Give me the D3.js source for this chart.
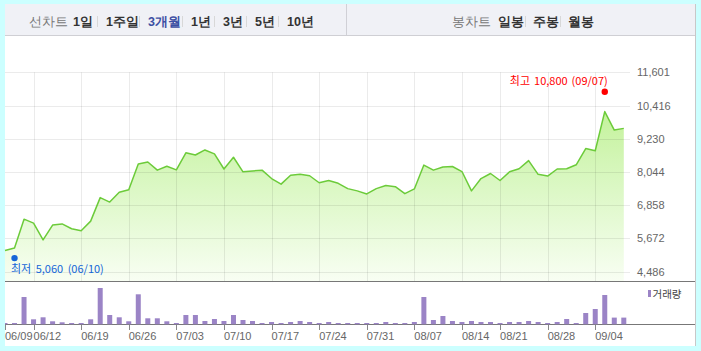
<!DOCTYPE html>
<html>
<head>
<meta charset="utf-8">
<script src="https://cdn.jsdelivr.net/npm/d3@7"></script>
<style>
  body { margin: 0; background: #ccffff; }
  svg { display: block; }
  text { font-family: "Liberation Sans", Arial, sans-serif; }
  .kr { font-family: "Noto Sans CJK KR", sans-serif; }
</style>
</head>
<body>
<div id="chart"></div>
<script>
// trading days shown on the chart
const dates = [
  "06/09", "06/10", "06/11", "06/12", "06/13", "06/14", "06/15", "06/16",
  "06/19", "06/20", "06/21", "06/22", "06/23",
  "06/26", "06/27", "06/28", "06/29", "06/30",
  "07/03", "07/04", "07/05", "07/06", "07/07",
  "07/10", "07/11", "07/12", "07/13", "07/14",
  "07/17", "07/18", "07/19", "07/20", "07/21",
  "07/24", "07/25", "07/26", "07/27", "07/28",
  "07/31", "08/01", "08/02", "08/03", "08/04",
  "08/07", "08/08", "08/09", "08/10", "08/11",
  "08/14", "08/16", "08/17", "08/18",
  "08/21", "08/22", "08/23", "08/24", "08/25",
  "08/28", "08/29", "08/30", "08/31", "09/01",
  "09/04", "09/05", "09/06", "09/07"
];

// closing price
const prices = [
  5240, 5330, 6360, 6220, 5620, 6150, 6190, 6020,
  5950, 6290, 7130, 6970, 7320,
  7410, 8330, 8400, 8110, 8250,
  8120, 8730, 8650, 8830, 8690,
  8150, 8570, 8050, 8080, 8110,
  7810, 7610, 7930, 7960, 7910,
  7660, 7740, 7640, 7450, 7370,
  7260, 7450, 7560, 7520, 7270,
  7440, 8290, 8110, 8220, 8240,
  8060, 7370, 7810, 7990,
  7740, 8050, 8160, 8450, 7960,
  7900, 8150, 8160, 8300, 8880,
  8800, 10200, 9540, 9600
];

// volume (thousand shares)
const volumes = [
  130, 130, 2730, 500, 700, 300, 200, 130,
  130, 500, 3630, 930, 700,
  300, 3000, 600, 600, 300,
  130, 930, 930, 330, 530,
  330, 930, 430, 330, 130,
  230, 130, 230, 330, 230,
  130, 230, 130, 130, 130,
  130, 130, 230, 130, 130,
  230, 2730, 430, 830, 330,
  230, 330, 230, 230,
  130, 230, 230, 330, 230,
  130, 230, 530, 130, 1130,
  1530, 2930, 670, 670
];

const priceTicks = [4486, 5672, 6858, 8044, 9230, 10416, 11601];
const dateTicks = ["06/09", "06/12", "06/19", "06/26", "07/03", "07/10", "07/17",
  "07/24", "07/31", "08/07", "08/14", "08/21", "08/28", "09/04"];

const highMark = { index: 63, value: 10800, text: "최고 10,800 (09/07)" };
const lowMark = { index: 1, value: 5060, text: "최저 5,060 (06/10)" };

const periodButtons = ["1일", "1주일", "3개월", "1년", "3년", "5년", "10년"];
const candleButtons = ["일봉", "주봉", "월봉"];

const width = 701;
const height = 351;

const svg = d3.select("#chart")
  .append("svg")
  .attr("width", width)
  .attr("height", height);

// white panel with header strip
svg.append("rect").attr("x", 5).attr("y", 4).attr("width", 690).attr("height", 342).attr("fill", "#fff");
svg.append("line").attr("x1", 695.5).attr("x2", 695.5).attr("y1", 4).attr("y2", 346).attr("stroke", "#c8c8c8");
svg.append("rect").attr("x", 5).attr("y", 4).attr("width", 690).attr("height", 31).attr("fill", "#f0f1f6");
svg.append("line").attr("x1", 5).attr("x2", 695).attr("y1", 35.5).attr("y2", 35.5).attr("stroke", "#cfcfd4");
svg.append("line").attr("x1", 346.5).attr("x2", 346.5).attr("y1", 4).attr("y2", 35).attr("stroke", "#d0d0d6");

// header buttons
const periodX = [73, 106, 148, 191, 223, 255, 287];
const candleX = [498, 533, 568];
const header = svg.append("g").attr("class", "kr");

header.append("text").attr("x", 29).attr("y", 26).text("선차트")
  .style("font-size", "12.5px").attr("fill", "#777");
header.append("text").attr("x", 452).attr("y", 26).text("봉차트")
  .style("font-size", "12.5px").attr("fill", "#777");

periodButtons.forEach((t, i) => {
  header.append("text").attr("x", periodX[i]).attr("y", 26).text(t)
    .style("font-size", "12.5px").style("font-weight", "bold")
    .attr("fill", t === "3개월" ? "#3c4fa3" : "#333");
  if (i > 0) {
    header.append("line").attr("x1", periodX[i] - 8.5).attr("x2", periodX[i] - 8.5)
      .attr("y1", 16).attr("y2", 27).attr("stroke", "#d8d8d8");
  }
});
candleButtons.forEach((t, i) => {
  header.append("text").attr("x", candleX[i]).attr("y", 26).text(t)
    .style("font-size", "12.5px").style("font-weight", "bold").attr("fill", "#333");
  if (i > 0) {
    header.append("line").attr("x1", candleX[i] - 7.5).attr("x2", candleX[i] - 7.5)
      .attr("y1", 16).attr("y2", 27).attr("stroke", "#d8d8d8");
  }
});

// scales
const x = d3.scalePoint()
  .domain(d3.range(dates.length))
  .range([5, 623.8]);

const y = d3.scaleLinear()
  .domain([4486, 11601])
  .range([271.7, 72.3]);

const yVol = d3.scaleLinear()
  .domain([0, 4000])
  .range([324.3, 284.3]);

// gradient for area
const defs = svg.append("defs");
const grad = defs.append("linearGradient")
  .attr("id", "areaFill")
  .attr("gradientUnits", "userSpaceOnUse")
  .attr("x1", 0).attr("x2", 0).attr("y1", 72).attr("y2", 281);
grad.append("stop").attr("offset", 0).attr("stop-color", "#b8ef86");
grad.append("stop").attr("offset", 0.5).attr("stop-color", "#d8f7bf");
grad.append("stop").attr("offset", 1).attr("stop-color", "#f8fef3");

defs.append("clipPath").attr("id", "plotClip")
  .append("rect").attr("x", 5).attr("y", 40).attr("width", 690).attr("height", 300);

const area = d3.area()
  .x((d, i) => x(i))
  .y0(281)
  .y1(d => y(d));

const line = d3.line()
  .x((d, i) => x(i))
  .y(d => y(d));

svg.append("path")
  .datum(prices)
  .attr("d", area)
  .attr("fill", "url(#areaFill)");

// grid lines (drawn over the fill)
const tickIdx = dates.map((d, i) => i).filter(i => dateTicks.includes(dates[i]));

svg.append("g")
  .selectAll("line")
  .data(priceTicks)
  .join("line")
  .attr("x1", 5).attr("x2", 630)
  .attr("y1", d => Math.round(y(d)) + 0.5)
  .attr("y2", d => Math.round(y(d)) + 0.5)
  .attr("stroke", "rgba(0,0,0,0.08)");

svg.append("g")
  .selectAll("line")
  .data(tickIdx.slice(1))
  .join("line")
  .attr("x1", d => Math.round(x(d)) + 0.5)
  .attr("x2", d => Math.round(x(d)) + 0.5)
  .attr("y1", y(11601))
  .attr("y2", 281)
  .attr("stroke", "rgba(0,0,0,0.08)");

svg.append("path")
  .datum(prices)
  .attr("d", line)
  .attr("fill", "none")
  .attr("stroke", "#6ccb3a")
  .attr("stroke-width", 1.5)
  .attr("stroke-linejoin", "round");

// price labels on the right
svg.append("g")
  .selectAll("text")
  .data(priceTicks)
  .join("text")
  .attr("x", 637)
  .attr("y", d => y(d) + 4)
  .text(d => d3.format(",")(d))
  .style("font-size", "11px")
  .attr("fill", "#666");

// panel separators
svg.append("line").attr("x1", 5).attr("x2", 695).attr("y1", 281.5).attr("y2", 281.5).attr("stroke", "#777");
svg.append("line").attr("x1", 5).attr("x2", 695).attr("y1", 324.5).attr("y2", 324.5).attr("stroke", "#777");

// volume bars
svg.append("g")
  .attr("clip-path", "url(#plotClip)")
  .selectAll("rect")
  .data(volumes)
  .join("rect")
  .attr("x", (d, i) => x(i) - 2.5)
  .attr("width", 5)
  .attr("y", d => yVol(d))
  .attr("height", d => yVol(0) - yVol(d))
  .attr("fill", "#9b84c6");

// date ticks
const xTicks = svg.append("g");
xTicks.selectAll("line")
  .data(tickIdx)
  .join("line")
  .attr("x1", d => Math.round(x(d)) + 0.5)
  .attr("x2", d => Math.round(x(d)) + 0.5)
  .attr("y1", 325).attr("y2", 330)
  .attr("stroke", "#888");
xTicks.selectAll("text")
  .data(tickIdx)
  .join("text")
  .attr("x", d => x(d))
  .attr("y", 340)
  .text(d => dates[d])
  .style("font-size", "11px")
  .attr("fill", "#666");

// high / low markers
svg.append("circle")
  .attr("cx", x(highMark.index)).attr("cy", y(highMark.value) - 3)
  .attr("r", 3.2).attr("fill", "#ff0000");
svg.append("text")
  .attr("class", "kr")
  .attr("x", x(highMark.index) + 3)
  .attr("y", 85)
  .attr("text-anchor", "end")
  .text(highMark.text)
  .style("font-size", "11px")
  .style("word-spacing", "1.5px")
  .attr("fill", "#ff0000");

svg.append("circle")
  .attr("cx", x(lowMark.index)).attr("cy", y(lowMark.value) + 2.5)
  .attr("r", 3.2).attr("fill", "#1565d8");
svg.append("text")
  .attr("class", "kr")
  .attr("x", 11)
  .attr("y", 273)
  .text(lowMark.text)
  .style("font-size", "11px")
  .style("word-spacing", "2px")
  .attr("fill", "#1565d8");

// volume legend
svg.append("rect").attr("x", 648).attr("y", 290).attr("width", 3).attr("height", 7).attr("fill", "#9b84c6");
svg.append("text").attr("class", "kr").attr("x", 652.5).attr("y", 297.5)
  .text("거래량").style("font-size", "10.5px").attr("fill", "#444");
</script>
</body>
</html>
